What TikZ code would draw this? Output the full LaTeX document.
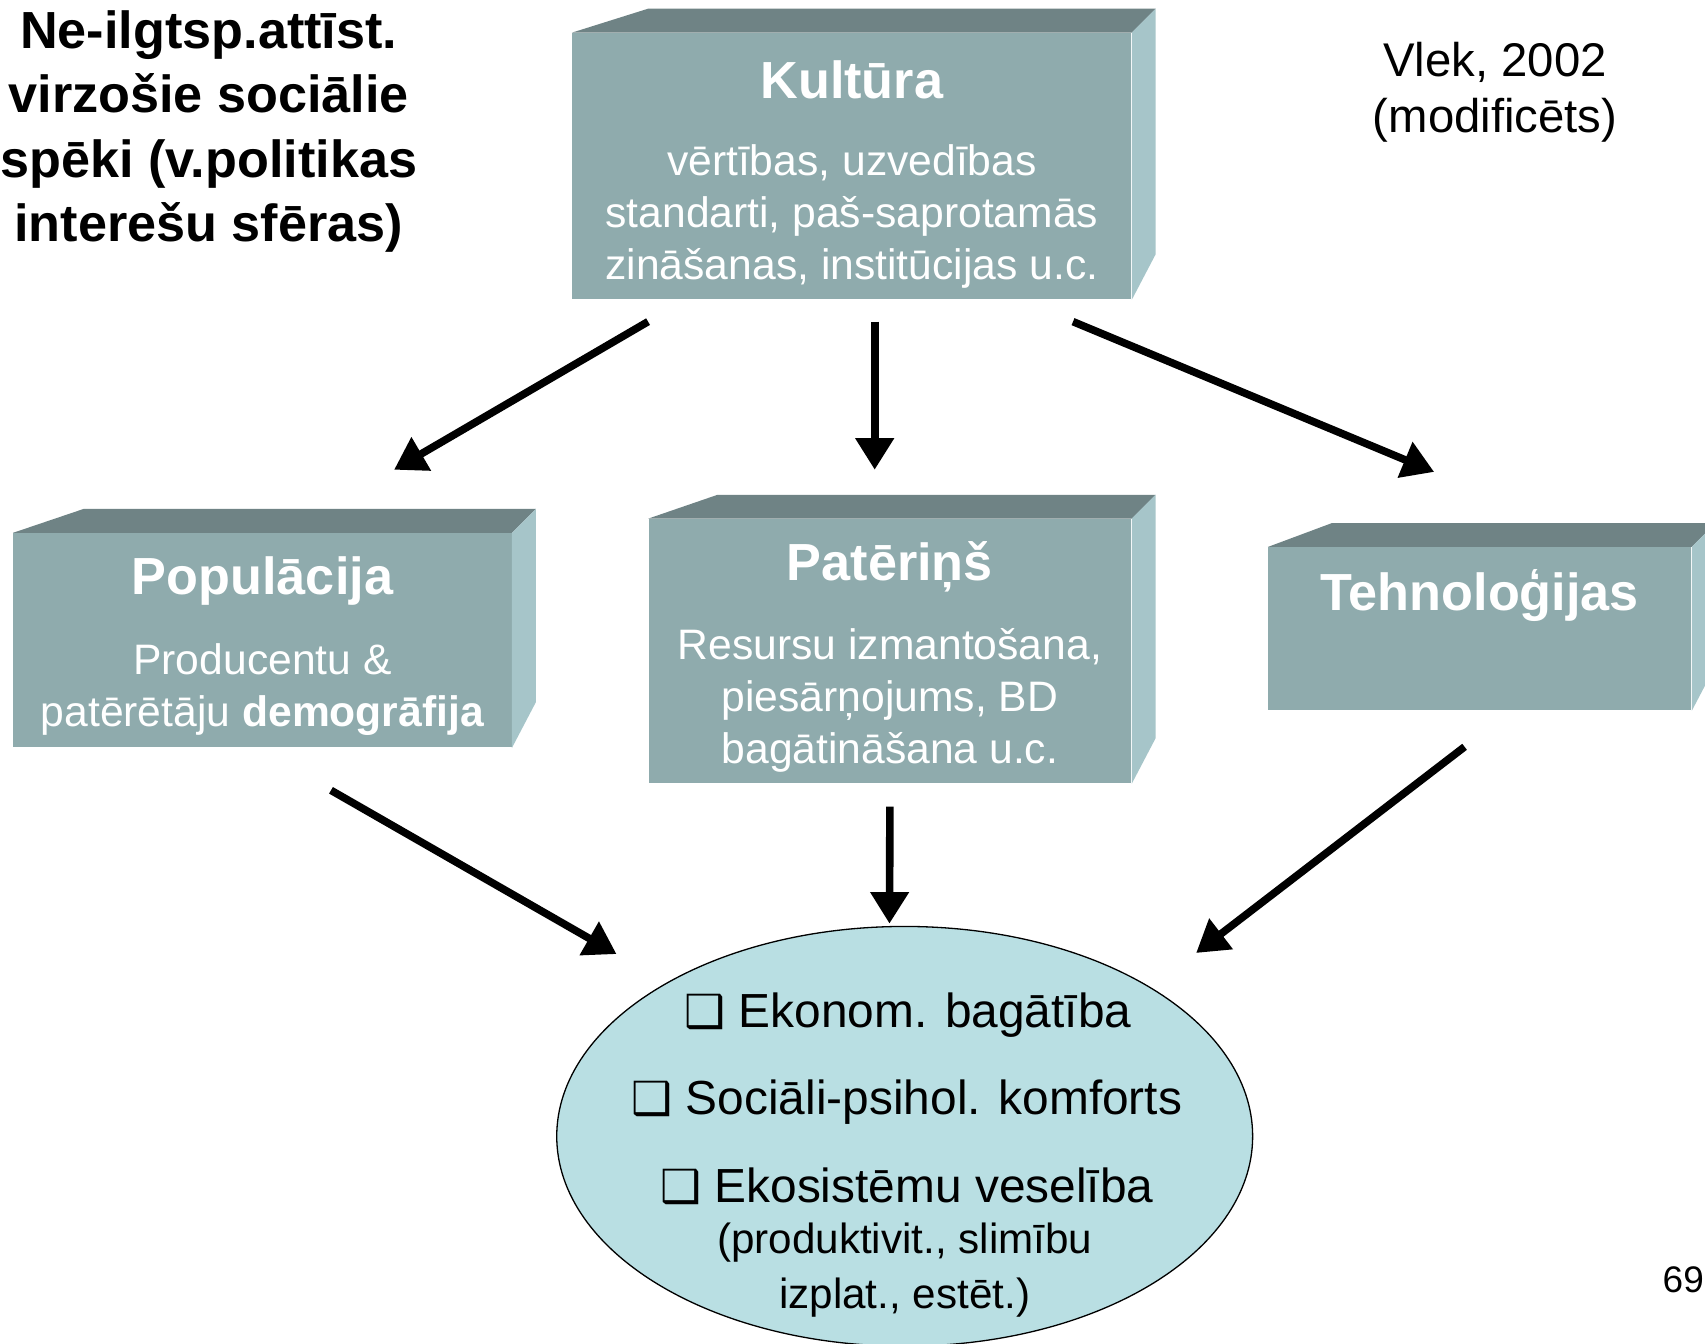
\documentclass[tikz,border=0pt]{standalone}
\usepackage{fontspec}
\setmainfont{Liberation Sans}
\newfontfamily\dejavu{DejaVu Sans}
\usepackage{tikz}
\usetikzlibrary{calc, positioning, arrows.meta, shapes.geometric}
\definecolor{faceFront}{RGB}{143,171,173}
\definecolor{faceTop}{RGB}{111,131,133}
\definecolor{faceSide}{RGB}{166,197,201}
\definecolor{ovalCyan}{RGB}{185,223,227}
% top and side faces of a slab, #1 = front node, #2 = depth on the left
\newcommand{\slabfaces}[2]{%
  \fill[faceTop] (#1.north west) -- ++(#2,-22) -- ($(#1.north east)+(22,-22)$) -- (#1.north east) -- cycle;
  \fill[faceSide] (#1.north east) -- ++(22,-22) -- ($(#1.south east)+(22,-42)$) -- (#1.south east) -- cycle;
}
\newcommand{\chk}{{\dejavu\fontsize{21}{22}\selectfont ❑}}
\tikzset{
  slab/.style     = {fill=faceFront, inner sep=0pt, anchor=north west},
  ttl/.style      = {text=white, font=\fontsize{24}{29}\selectfont\bfseries, inner sep=0pt},
  txt/.style      = {text=white, align=center, font=\fontsize{19.6}{23.75}\selectfont, inner sep=0pt},
  lead/.style     = {align=center, font=\fontsize{24}{29.5}\selectfont\bfseries, inner sep=0pt},
  cite/.style     = {align=center, font=\fontsize{21.75}{26}\selectfont, inner sep=0pt},
  oval/.style     = {ellipse, draw=black, line width=0.6pt, fill=ovalCyan, inner sep=0pt},
  ovaltxt/.style  = {font=\fontsize{22}{26}\selectfont, inner sep=0pt},
  ovalnote/.style = {font=\fontsize{19.4}{24}\selectfont, inner sep=0pt},
  fl/.style       = {-{Triangle[length=14.5pt, width=17pt]}, line width=3.5pt}
}
\begin{document}
\begin{tikzpicture}[x=0.5pt, y=-0.5pt]
  \path[use as bounding box, fill=white] (0,0) rectangle (1568,1236);

  % slabs
  \node[slab, minimum width=257pt, minimum height=122.5pt] (kult) at (526,30) {};
  \slabfaces{kult}{70}
  \node[slab, minimum width=229pt, minimum height=98.5pt] (pop) at (12,490) {};
  \slabfaces{pop}{65}
  \node[slab, minimum width=222pt, minimum height=121.5pt] (pat) at (596,477) {};
  \slabfaces{pat}{64}
  \node[slab, minimum width=194.5pt, minimum height=75pt] (tech) at (1166,503) {};
  \slabfaces{tech}{59}

  \node[ttl] (kultT) at ($(kult.north)+(0,43)$) {Kultūra};
  \node[txt] (kultB) at ($(kult.north)+(0,169)$) {vērtības, uzvedības\\standarti, paš-saprotamās\\zināšanas, institūcijas u.c.};
  \node[ttl] (popT) at ($(pop.north)+(0,44)$) {Populācija};
  \node[txt] (popB) at ($(pop.north)+(0,144)$) {Producentu \&\\patērētāju \textbf{demogrāfija}};
  \node[ttl] (patT) at ($(pat.north)+(0,44)$) {Patēriņš};
  \node[txt] (patB) at ($(pat.north)+(0,167)$) {Resursu izmantošana,\\piesārņojums, BD\\bagātināšana u.c.};
  \node[ttl] (techT) at ($(tech.north)+(0,45)$) {Tehnoloģijas};

  % outcome
  \node[oval, minimum width=320pt, minimum height=193pt] (eco) at (832,1045) {};
  \node[ovaltxt] (eco1) at ($(eco.center)+(3,-111)$) {\chk\ Ekonom. bagātība};
  \node[ovaltxt] (eco2) at ($(eco.center)+(2,-31)$) {\chk\ Sociāli-psihol. komforts};
  \node[ovaltxt] (eco3) at ($(eco.center)+(2,46)$) {\chk\ Ekosistēmu veselība};
  \node[ovalnote] (eco4) at ($(eco.center)+(0,98)$) {(produktivit., slimību};
  \node[ovalnote] (eco5) at ($(eco.center)+(0,148)$) {izplat., estēt.)};

  \node[lead] (head) at (192,121) {Ne-ilgtsp.attīst.\\virzošie sociālie\\spēki (v.politikas\\interešu sfēras)};
  \node[cite] (src) at (1375,85) {Vlek, 2002\\(modificēts)};
  \node[font=\fontsize{17}{20}\selectfont, inner sep=0pt] (page) at (1548,1177) {69};

  % arrows
  \draw[fl] ($(kult.south west)+(70,20)$) -- ($(pop.north)+(121,-58)$);
  \draw[fl] ($(kult.south)+(21,20)$) -- ($(pat.north)+(-14,-45)$);
  \draw[fl] ($(kult.south east)+(-54,20)$) -- ($(tech.north)+(-42,-69)$);
  \draw[fl] ($(pop.south)+(63,39)$) -- ($(eco.north)+(-265,26)$);
  \draw[fl] ($(pat.south)+(0,21)$) -- ($(eco.north)+(-14,-2)$);
  \draw[fl] ($(tech.south)+(-14,33)$) -- ($(eco.north)+(268,25)$);
\end{tikzpicture}
\end{document}
